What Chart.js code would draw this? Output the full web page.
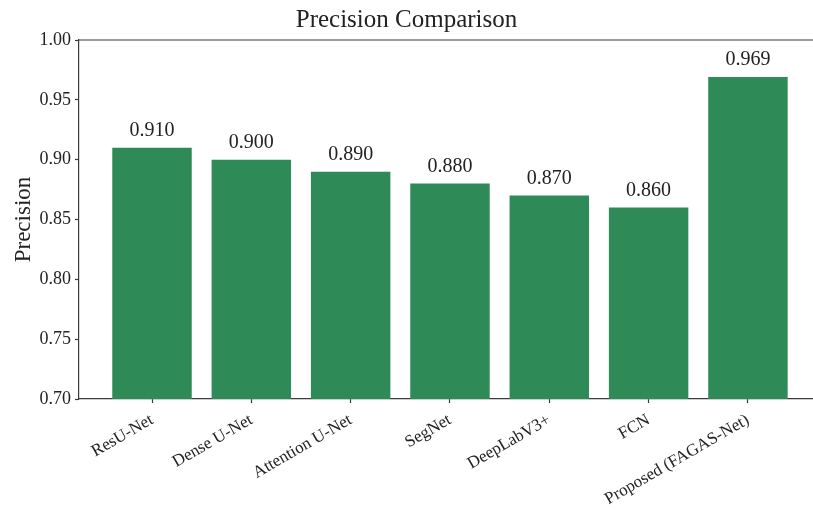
<!DOCTYPE html>
<html>
<head>
<meta charset="utf-8">
<title>Precision Comparison</title>
<script src="https://cdn.jsdelivr.net/npm/chart.js@4/dist/chart.umd.min.js"></script>
<style>
  html, body { margin: 0; padding: 0; background: #fff; overflow: hidden; }
  canvas { display: block; }
</style>
</head>
<body>
<canvas id="chart" width="813" height="521"></canvas>
<script>
// Models compared and their precision scores
const models = ['ResU-Net', 'Dense U-Net', 'Attention U-Net', 'SegNet', 'DeepLabV3+', 'FCN', 'Proposed (FAGAS-Net)'];
const precision = [0.910, 0.900, 0.890, 0.880, 0.870, 0.860, 0.969];
const yTicks = [0.70, 0.75, 0.80, 0.85, 0.90, 0.95, 1.00];

const SERIF = "'Liberation Serif', 'Times New Roman', serif";
const TEXT = '#222222';
const AXIS = '#3a3a3a';
const BAR = '#2e8b57';

// Top frame line across the plotting area
const frameTop = {
  id: 'frameTop',
  afterDraw(chart) {
    const { ctx, chartArea } = chart;
    ctx.save();
    ctx.strokeStyle = AXIS;
    ctx.lineWidth = 1.2;
    ctx.beginPath();
    ctx.moveTo(chartArea.left, chartArea.top);
    ctx.lineTo(chartArea.right, chartArea.top);
    ctx.stroke();
    ctx.restore();
  }
};

// Value printed above each bar
const valueLabels = {
  id: 'valueLabels',
  afterDatasetsDraw(chart) {
    const { ctx } = chart;
    const meta = chart.getDatasetMeta(0);
    ctx.save();
    ctx.fillStyle = TEXT;
    ctx.font = `20px ${SERIF}`;
    ctx.textAlign = 'center';
    ctx.textBaseline = 'alphabetic';
    meta.data.forEach((bar, i) => {
      ctx.fillText(precision[i].toFixed(3), bar.x, bar.y - 12);
    });
    ctx.restore();
  }
};

new Chart(document.getElementById('chart'), {
  type: 'bar',
  data: {
    datasets: [{
      data: precision.map((v, i) => ({ x: i, y: v })),
      backgroundColor: BAR,
      borderWidth: 0,
      barPercentage: 0.8,
      categoryPercentage: 1.0
    }]
  },
  plugins: [frameTop, valueLabels],
  options: {
    responsive: false,
    animation: false,
    devicePixelRatio: 1,
    layout: { padding: 0 },
    plugins: {
      legend: { display: false },
      tooltip: { enabled: false },
      title: {
        display: true,
        text: 'Precision Comparison',
        color: TEXT,
        font: { family: SERIF, size: 25, weight: 'normal' },
        padding: { top: 5, bottom: 5 }
      }
    },
    scales: {
      x: {
        type: 'linear',
        min: -0.735,
        max: 6.655,
        offset: false,
        afterBuildTicks(scale) {
          scale.ticks = models.map((_, i) => ({ value: i }));
        },
        afterFit(scale) { scale.height = 122; },
        grid: { display: true, offset: false, drawOnChartArea: false, drawTicks: true, tickLength: 4, tickColor: AXIS, tickWidth: 1.2 },
        border: { display: true, color: AXIS, width: 1.2 },
        ticks: {
          autoSkip: false,
          minRotation: 30,
          maxRotation: 30,
          padding: 7,
          color: TEXT,
          font: { family: SERIF, size: 17 },
          callback: (v) => models[v]
        }
      },
      y: {
        min: 0.70,
        max: 1.00,
        afterBuildTicks(scale) {
          scale.ticks = yTicks.map(v => ({ value: v }));
        },
        afterFit(scale) { scale.width = 79; },
        grid: { display: true, offset: false, drawOnChartArea: false, drawTicks: true, tickLength: 4, tickColor: AXIS, tickWidth: 1.2 },
        border: { display: true, color: AXIS, width: 1.2 },
        ticks: {
          padding: 4,
          color: TEXT,
          font: { family: SERIF, size: 18 },
          callback: (v) => Number(v).toFixed(2)
        },
        title: {
          display: true,
          text: 'Precision',
          color: TEXT,
          font: { family: SERIF, size: 23 },
          padding: { top: 10, bottom: 0 }
        }
      }
    }
  }
});
</script>
</body>
</html>
